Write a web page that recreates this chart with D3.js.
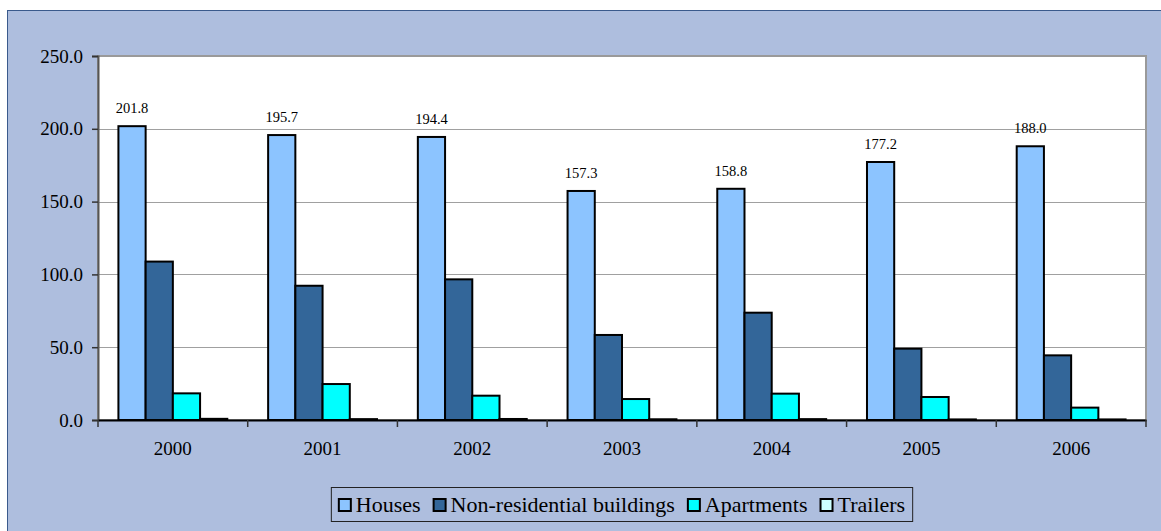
<!DOCTYPE html>
<html>
<head>
<meta charset="utf-8">
<script src="https://cdn.jsdelivr.net/npm/d3@7"></script>
<style>
  html, body { margin: 0; padding: 0; background: #ffffff; }
  svg { display: block; }
  text { font-family: "Liberation Serif", "Times New Roman", serif; fill: #000; }
</style>
</head>
<body>
<svg id="chart" width="1161" height="531"></svg>
<script>
const years = ["2000", "2001", "2002", "2003", "2004", "2005", "2006"];
const seriesNames = ["Houses", "Non-residential buildings", "Apartments", "Trailers"];
const houses = [201.8, 195.7, 194.4, 157.3, 158.8, 177.2, 188.0];
const nonResidential = [108.8, 92.2, 96.6, 58.4, 73.7, 49.0, 44.4];
const apartments = [18.3, 24.7, 16.7, 14.4, 18.1, 15.8, 8.5];
const trailers = [0.8, 0.6, 0.7, 0.5, 0.6, 0.4, 0.4];
const yTicks = [0, 50, 100, 150, 200, 250];
const colors = ["#8CC4FF", "#336699", "#00FFFF", "#CCFFFF"];

const seriesValues = [houses, nonResidential, apartments, trailers];

const svg = d3.select("#chart");
const W = 1161, H = 531;
const plot = { left: 98, right: 1146, top: 56, bottom: 420 };
const serif = '"Liberation Serif", "Times New Roman", serif';

// outer background frame
svg.append("rect").attr("x", 7.5).attr("y", 10.5).attr("width", W).attr("height", H)
  .attr("fill", "#AEBEDE").attr("stroke", "#3A5A8C").attr("stroke-width", 1);

// plot area
svg.append("rect")
  .attr("x", plot.left).attr("y", plot.top)
  .attr("width", plot.right - plot.left).attr("height", plot.bottom - plot.top)
  .attr("fill", "#ffffff").attr("stroke", "#9A9A9A").attr("stroke-width", 2);

const x0 = d3.scaleBand().domain(years).range([plot.left, plot.right]).paddingInner(0).paddingOuter(0);
const x1 = d3.scaleBand().domain(seriesNames).range([0, x0.bandwidth()]).paddingInner(0).paddingOuter(0.75);
const y = d3.scaleLinear().domain([0, 250]).range([plot.bottom, plot.top]);

// gridlines
svg.append("g").selectAll("line").data(yTicks.filter(d => d > 0 && d < 250)).join("line")
  .attr("x1", plot.left).attr("x2", plot.right)
  .attr("y1", d => Math.round(y(d)) + 0.5).attr("y2", d => Math.round(y(d)) + 0.5)
  .attr("stroke", "#A0A0A0").attr("stroke-width", 1);

// bars
const groups = svg.append("g").selectAll("g").data(years).join("g")
  .attr("transform", d => `translate(${x0(d)},0)`);
groups.selectAll("rect").data((yr, i) => seriesNames.map((s, j) => ({ s, j, v: seriesValues[j][i] }))).join("rect")
  .attr("x", d => x1(d.s))
  .attr("width", x1.bandwidth())
  .attr("y", d => y(d.v))
  .attr("height", d => y(0) - y(d.v))
  .attr("fill", d => colors[d.j])
  .attr("stroke", "#000").attr("stroke-width", 2);

// data labels on houses
svg.append("g").selectAll("text").data(years).join("text")
  .attr("x", (d) => x0(d) + x1("Houses") + x1.bandwidth() / 2)
  .attr("y", (d, i) => y(houses[i]) - 13)
  .attr("text-anchor", "middle")
  .attr("font-size", "14.5px")
  .style("font-family", serif)
  .text((d, i) => houses[i].toFixed(1));

// y axis
const yAxis = d3.axisLeft(y).tickValues(yTicks).tickFormat(d3.format(".1f")).tickSize(6).tickPadding(9);
const gy = svg.append("g").attr("transform", `translate(${plot.left},0)`).call(yAxis);
gy.select(".domain").attr("stroke", "#555").attr("stroke-width", 2);
gy.selectAll(".tick line").attr("stroke", "#333").attr("stroke-width", 1.5);
gy.selectAll(".tick text").attr("font-size", "19px").style("font-family", serif).attr("fill", "#000");

// x axis
const xAxis = d3.axisBottom(x0).tickSize(0).tickPadding(22);
const gx = svg.append("g").attr("transform", `translate(0,${plot.bottom})`).call(xAxis);
gx.select(".domain").attr("stroke", "#000").attr("stroke-width", 2);
gx.selectAll(".tick text").attr("font-size", "19px").style("font-family", serif).attr("fill", "#000");
// category boundary ticks
const bounds = years.map(d => x0(d)).concat([plot.right]);
svg.append("g").selectAll("line").data(bounds).join("line")
  .attr("x1", d => d).attr("x2", d => d)
  .attr("y1", plot.bottom).attr("y2", plot.bottom + 7)
  .attr("stroke", "#333").attr("stroke-width", 1.5);

// legend
const legend = svg.append("g");
const legBox = legend.append("rect").attr("fill", "none").attr("stroke", "#222").attr("stroke-width", 1);
const items = legend.selectAll("g").data(seriesNames).join("g");
items.append("rect").attr("width", 12).attr("height", 12).attr("y", -13)
  .attr("fill", (d, i) => colors[i]).attr("stroke", "#000").attr("stroke-width", 2);
items.append("text").attr("x", 17).attr("y", 0).attr("font-size", "22px").style("font-family", serif).text(d => d);
const gap = 13;
let cx = 0;
const offsets = [];
items.each(function () {
  const g = d3.select(this);
  offsets.push(cx);
  const w = 17 + g.select("text").node().getComputedTextLength();
  cx += w + gap;
});
const totalW = cx - gap;
const legCenter = 622;
const legLeft = legCenter - totalW / 2;
items.attr("transform", (d, i) => `translate(${legLeft + offsets[i]},512)`);
legBox.attr("x", legLeft - 7.5).attr("y", 487.5).attr("width", totalW + 15).attr("height", 34);
</script>
</body>
</html>
